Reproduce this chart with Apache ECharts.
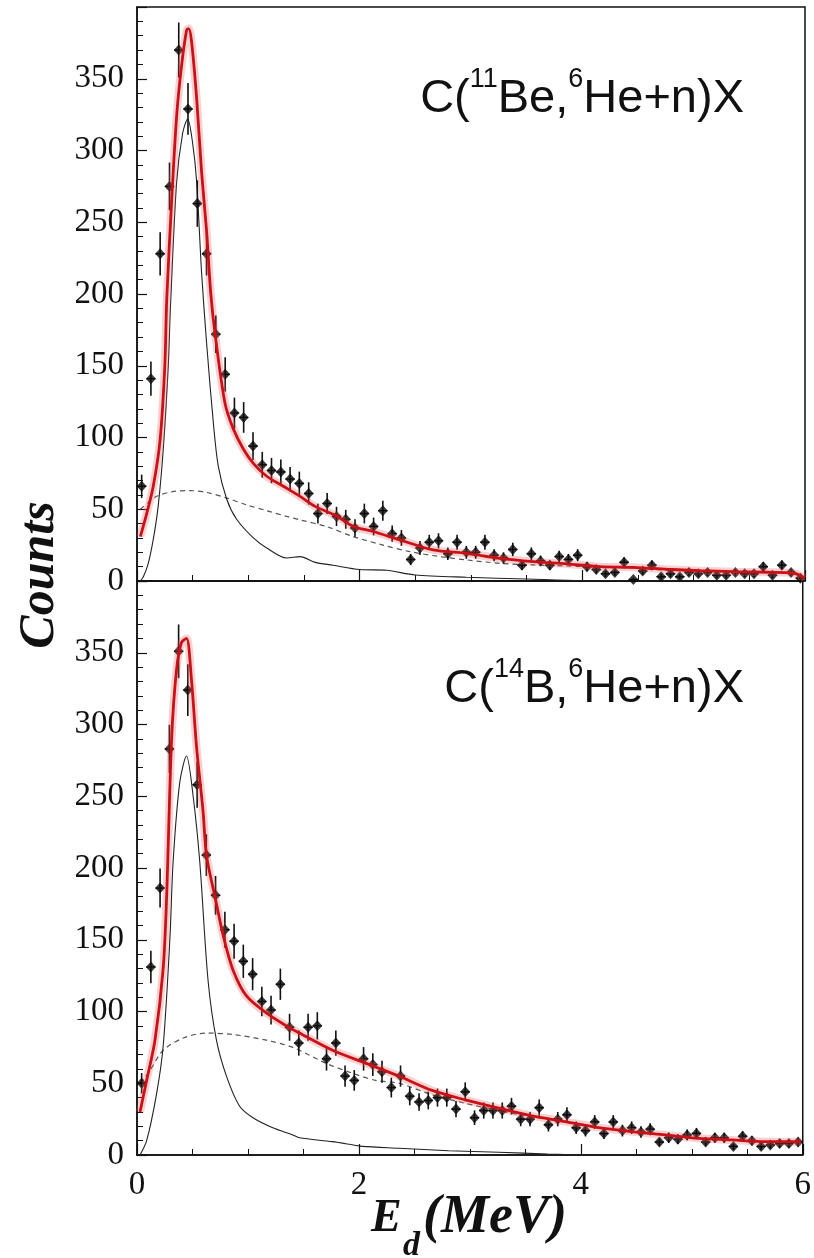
<!DOCTYPE html>
<html><head><meta charset="utf-8">
<script src="https://cdn.jsdelivr.net/npm/echarts@6/dist/echarts.min.js"></script>
<style>html,body{margin:0;padding:0;background:#fff}#c{width:814px;height:1258px}</style>
</head><body><div id="c"></div>
<script>
// bin centres (MeV), bin width 1/12 MeV
const binCenters = [0.042,0.125,0.208,0.292,0.375,0.458,0.542,0.625,0.708,0.792,0.875,0.958,
1.042,1.125,1.208,1.292,1.375,1.458,1.542,1.625,1.708,1.792,1.875,1.958,
2.042,2.125,2.208,2.292,2.375,2.458,2.542,2.625,2.708,2.792,2.875,2.958,
3.042,3.125,3.208,3.292,3.375,3.458,3.542,3.625,3.708,3.792,3.875,3.958,
4.042,4.125,4.208,4.292,4.375,4.458,4.542,4.625,4.708,4.792,4.875,4.958,
5.042,5.125,5.208,5.292,5.375,5.458,5.542,5.625,5.708,5.792,5.875,5.958];
const halfBin = 0.0417;

// Top panel: C(11Be,6He+n)X
const topCounts = [66,141,228,275,370,329,263,228,172,144,117,114,
94,81,77,76,71,68,61,47,54,45,43,37,
47,38,49,33,30,15,23,27,28,19,27,20,
20,27,18,16,22,11,19,14,11,17,15,18,
10,8,5,6,13,1,7,11,3,5,3,6,
5,6,4,4,6,5,5,10,4,11,6,2];
const topErr = [8.1,11.9,15.1,16.6,19.2,18.1,16.2,15.1,13.1,12.0,10.8,10.7,
9.7,9.0,8.8,8.7,8.4,8.2,7.8,6.9,7.3,6.7,6.6,6.1,
6.9,6.2,7.0,5.7,5.5,3.9,4.8,5.2,5.3,4.4,5.2,4.5,
4.5,5.2,4.2,4.0,4.7,3.3,4.4,3.7,3.3,4.1,3.9,4.2,
3.2,2.8,2.2,2.4,3.6,1.0,2.6,3.3,1.7,2.2,1.7,2.4,
2.2,2.4,2.0,2.0,2.4,2.2,2.2,3.2,2.0,3.3,2.4,1.4];
const topTotal = [[0.03,31],[0.087,47],[0.146,66],[0.207,98],[0.25,150],[0.267,196],[0.312,266],[0.356,324],[0.40,359],[0.446,384],[0.465,385],[0.49,376],[0.536,336],[0.58,285],[0.626,243],[0.662,201],[0.70,173],[0.79,124],[0.865,106],[0.955,92],[1.045,82],[1.165,73],[1.314,66],[1.464,59],[1.6,52],[1.8,45],[1.943,38],[2.12,34.5],[2.36,28.7],[2.66,21.7],[2.96,19.3],[3.26,15.8],[3.56,13.5],[3.86,11.9],[4.16,10],[4.46,9.5],[4.76,8.2],[5.06,7.2],[5.36,6.5],[5.66,6.1],[5.9,5.4],[6.0,2]];
const topPeak = [[0.03,0],[0.057,3],[0.10,12],[0.146,29],[0.19,52],[0.236,92],[0.281,150],[0.30,190],[0.356,278],[0.41,312],[0.455,322],[0.50,305],[0.536,278],[0.58,215],[0.626,165],[0.686,110],[0.73,80],[0.806,57],[0.895,43],[1.045,30],[1.165,23],[1.345,16],[1.464,17],[1.6,13],[1.76,11],[2.0,8],[2.24,7.5],[2.5,4.2],[2.96,2.6],[3.5,1.4],[4.0,0.3],[5,0],[6,0]];
const topBack = [[0.03,50],[0.177,59],[0.33,62.4],[0.476,63],[0.626,61.7],[0.806,57.8],[0.985,53],[1.165,49],[1.345,45],[1.464,42.6],[1.70,38],[1.94,31],[2.21,25],[2.45,20.5],[2.72,17],[2.96,14.7],[3.26,12.3],[3.56,11.2],[3.86,10.5],[4.16,9.5],[4.46,9],[4.76,7.5],[5.06,7],[5.36,6.3],[5.66,6],[5.9,5.4],[6.0,2]];

// Bottom panel: C(14B,6He+n)X
const botCounts = [50,131,186,283,351,324,258,209,181,157,149,135,
126,107,101,119,89,78,89,90,67,78,55,52,
67,63,58,47,55,41,37,38,40,40,32,44,
26,31,31,31,34,25,25,33,21,25,28,19,
17,23,15,23,17,19,16,18,9,12,11,14,
15,9,12,12,6,13,10,6,7,8,8,9];
const botErr = [7.1,11.4,13.6,16.8,18.7,18.0,16.1,14.5,13.5,12.5,12.2,11.6,
11.2,10.3,10.0,10.9,9.4,8.8,9.4,9.5,8.2,8.8,7.4,7.2,
8.2,7.9,7.6,6.9,7.4,6.4,6.1,6.2,6.3,6.3,5.7,6.6,
5.1,5.6,5.6,5.6,5.8,5.0,5.0,5.7,4.6,5.0,5.3,4.4,
4.1,4.8,3.9,4.8,4.1,4.4,4.0,4.2,3.0,3.5,3.3,3.7,
3.9,3.0,3.5,3.5,2.4,3.6,3.2,2.4,2.6,2.8,2.8,3.0];
const botTotal = [[0.027,30],[0.087,52],[0.162,80],[0.236,130],[0.267,180],[0.312,290],[0.356,338],[0.40,357],[0.446,360],[0.49,332],[0.536,285],[0.596,239],[0.626,209],[0.708,178],[0.78,152],[0.865,129],[0.985,111],[1.165,99],[1.345,90],[1.464,85],[1.763,73],[2.06,64],[2.36,55],[2.66,45],[2.96,38.4],[3.26,32.6],[3.56,27.3],[3.86,23.3],[4.16,19.1],[4.46,16.3],[4.76,14],[5.06,11.6],[5.36,10.5],[5.66,9.3],[5.985,9.3]];
const botPeak = [[0.027,0],[0.087,10],[0.177,43],[0.236,76],[0.296,150],[0.326,205],[0.386,260],[0.446,278],[0.506,250],[0.566,204],[0.64,122],[0.716,80],[0.806,55],[0.925,34],[1.045,26],[1.224,19],[1.404,14],[1.464,12],[1.76,9.3],[1.95,7],[2.03,6],[2.36,4.7],[2.81,3],[3.26,1.9],[3.7,0.7],[4.2,0],[6,0]];
const botBack = [[0.03,50],[0.117,59],[0.236,73],[0.416,81.5],[0.626,85],[0.865,84],[1.165,80],[1.404,75],[1.70,64],[1.94,57],[2.15,52],[2.36,50],[2.66,42],[2.96,36],[3.26,31],[3.56,26.5],[3.86,23],[4.16,19],[4.46,16.3],[4.76,14],[5.06,11.6],[5.36,10.5],[5.66,9.3],[5.985,9.3]];

const xTicks = [0,2,4,6];
const yTicks = [0,50,100,150,200,250,300,350];

const chart = echarts.init(document.getElementById('c'), null, {renderer:'canvas'});

function errRender(params, api){
  const x = api.value(0), y = api.value(1), e = api.value(2);
  const t = api.coord([x, y + e]), b = api.coord([x, Math.max(0, y - e)]);
  const l = api.coord([x - halfBin, y]), r = api.coord([x + halfBin, y]);
  return {type:'group', children:[
    {type:'line', shape:{x1:t[0], y1:t[1], x2:b[0], y2:b[1]}, style:{stroke:'#111', lineWidth:1.6}},
    {type:'line', shape:{x1:l[0], y1:l[1], x2:r[0], y2:r[1]}, style:{stroke:'#111', lineWidth:1.4}}
  ]};
}

function xAx(gi, showLabel){
  return {gridIndex:gi, type:'value', min:0, max:6, interval:2,
    axisLine:{show:true, onZero:false, lineStyle:{color:'#111', width:1.5}},
    axisTick:{show:true, inside:true, length:11, lineStyle:{color:'#111', width:1.2}},
    minorTick:{show:true, splitNumber:4, length:6, lineStyle:{color:'#111', width:1}},
    splitLine:{show:false}, minorSplitLine:{show:false},
    axisLabel:{show:showLabel, fontFamily:'Liberation Serif', fontSize:33, color:'#111', margin:14,
      formatter: v => xTicks.indexOf(v) >= 0 ? String(v) : ''}
  };
}
function yAx(gi){
  return {gridIndex:gi, type:'value', min:0, max:400, interval:50,
    axisLine:{show:true, onZero:false, lineStyle:{color:'#111', width:1.5}},
    axisTick:{show:true, inside:true, length:10, lineStyle:{color:'#111', width:1.2}},
    minorTick:{show:true, splitNumber:5, length:6, lineStyle:{color:'#111', width:1}},
    splitLine:{show:false}, minorSplitLine:{show:false},
    axisLabel:{fontFamily:'Liberation Serif', fontSize:33, color:'#111', margin:13,
      formatter: v => yTicks.indexOf(v) >= 0 ? String(v) : ''}
  };
}

function panelSeries(p, counts, err, total, peak, back){
  const pts = binCenters.map((x,i) => [x, counts[i], err[i]]);
  return [
    {type:'line', xAxisIndex:p, yAxisIndex:p, data:back, symbol:'none', smooth:0.3,
      lineStyle:{color:'#555', width:1.2, type:[5,4]}, z:2},
    {type:'line', xAxisIndex:p, yAxisIndex:p, data:peak, symbol:'none', smooth:0.3,
      lineStyle:{color:'#222', width:1.1}, z:3},
    {type:'custom', xAxisIndex:p, yAxisIndex:p, data:pts, renderItem:errRender, z:4},
    {type:'scatter', xAxisIndex:p, yAxisIndex:p, data:pts.map(d => [d[0], d[1]]), symbol:'diamond',
      symbolSize:[10,11], itemStyle:{color:'#0a0a0a'}, z:5},
    {type:'line', xAxisIndex:p, yAxisIndex:p, data:total, symbol:'none', smooth:0.3,
      lineStyle:{color:'rgba(230,90,90,0.28)', width:8}, z:6},
    {type:'line', xAxisIndex:p, yAxisIndex:p, data:total, symbol:'none', smooth:0.3,
      lineStyle:{color:'#cc1018', width:2.8}, z:7}
  ];
}

const richN = {fontFamily:'Liberation Sans', fontSize:47, lineHeight:57, verticalAlign:'bottom', fill:'#111'};
const richS = {fontFamily:'Liberation Sans', fontSize:27, lineHeight:27, verticalAlign:'top', fill:'#111'};
const serifBI = {fontFamily:'Liberation Serif', fontStyle:'italic', fontWeight:'bold', fill:'#111'};

chart.setOption({
  animation:false,
  backgroundColor:'#fff',
  grid:[
    {left:137, top:7, width:668, height:574, show:true, borderColor:'#111', borderWidth:1.5, backgroundColor:'transparent'},
    {left:137, top:581, width:668, height:574, show:true, borderColor:'#111', borderWidth:1.5, backgroundColor:'transparent'}
  ],
  xAxis:[xAx(0,false), xAx(1,true)],
  yAxis:[yAx(0), yAx(1)],
  series:[].concat(
    panelSeries(0, topCounts, topErr, topTotal, topPeak, topBack),
    panelSeries(1, botCounts, botErr, botTotal, botPeak, botBack)
  ),
  graphic:[
    {type:'text', x:744, y:66, z:20, style:{text:'{n|C(}{s|11}{n|Be,}{s|6}{n|He+n)X}', align:'right', verticalAlign:'top', rich:{n:richN, s:richS}}},
    {type:'text', x:744, y:656, z:20, style:{text:'{n|C(}{s|14}{n|B,}{s|6}{n|He+n)X}', align:'right', verticalAlign:'top', rich:{n:richN, s:richS}}},
    {type:'text', x:40, y:575, rotation:Math.PI/2, z:20, style:Object.assign({text:'Counts', fontSize:50, align:'center', verticalAlign:'middle'}, serifBI)},
    {type:'text', x:371, y:1242, z:20, style:Object.assign({text:'E', fontSize:46, align:'left', verticalAlign:'bottom'}, serifBI)},
    {type:'text', x:403, y:1263, z:20, style:Object.assign({text:'d', fontSize:34, align:'left', verticalAlign:'bottom'}, serifBI)},
    {type:'text', x:423, y:1245, z:20, style:Object.assign({text:'(MeV)', fontSize:54, align:'left', verticalAlign:'bottom'}, serifBI)}
  ]
});
</script></body></html>
